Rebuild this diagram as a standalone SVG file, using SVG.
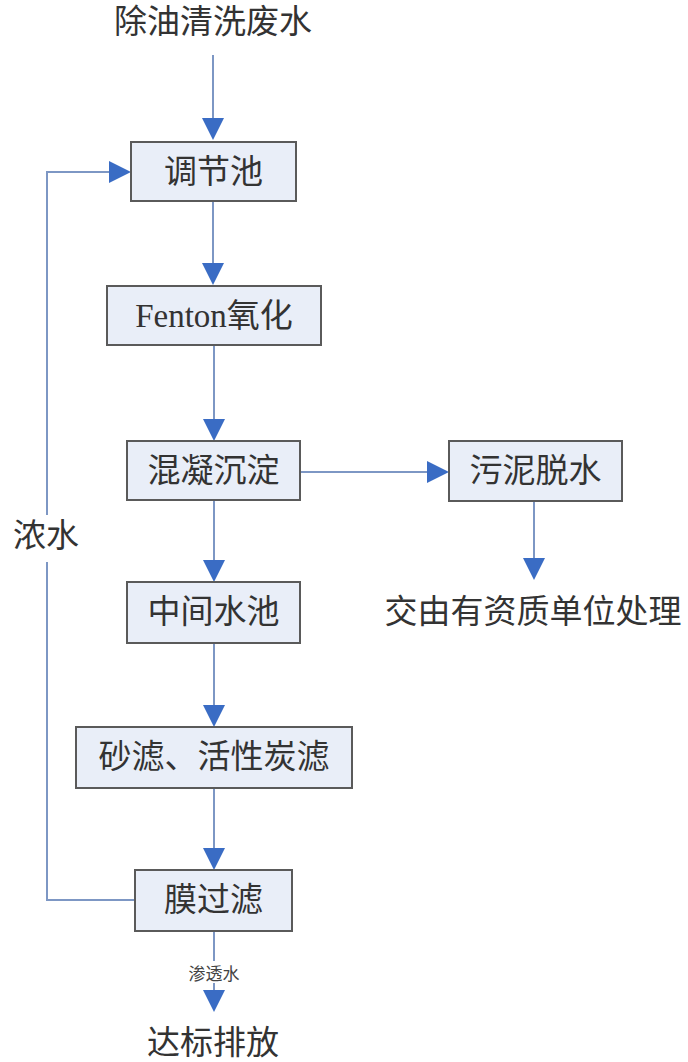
<svg xmlns="http://www.w3.org/2000/svg" width="688" height="1062" viewBox="0 0 688 1062">
<defs>
<style>
.box{fill:#e9eef8;stroke:#5a5a5a;stroke-width:2}
.t{font-family:"Liberation Serif","Noto Sans CJK SC",serif;font-size:33px;fill:#333;text-anchor:middle;dominant-baseline:central}
.s{font-family:"Noto Sans CJK SC",sans-serif;font-size:17px;fill:#444;text-anchor:middle;dominant-baseline:central}
.ln{fill:none;stroke:#7d97c4;stroke-width:2}
.hd{fill:#3a6cc4}
</style>
</defs>
<rect width="688" height="1062" fill="#ffffff"/>
<g id="connectors">
<line class="ln" x1="213" y1="55" x2="213" y2="120"/>
<path class="hd" d="M202,118 L224,118 L213,140 z"/>
<line class="ln" x1="213" y1="201" x2="213" y2="265"/>
<path class="hd" d="M202,263 L224,263 L213,285 z"/>
<line class="ln" x1="214" y1="345" x2="214" y2="421"/>
<path class="hd" d="M203,419 L225,419 L214,441 z"/>
<line class="ln" x1="300" y1="472" x2="429" y2="472"/>
<path class="hd" d="M427,461 L427,483 L449,472 z"/>
<line class="ln" x1="534" y1="501" x2="534" y2="560"/>
<path class="hd" d="M523,558 L545,558 L534,580 z"/>
<line class="ln" x1="214" y1="500" x2="214" y2="562"/>
<path class="hd" d="M203,560 L225,560 L214,582 z"/>
<line class="ln" x1="214" y1="643" x2="214" y2="707"/>
<path class="hd" d="M203,705 L225,705 L214,727 z"/>
<line class="ln" x1="214" y1="788" x2="214" y2="850"/>
<path class="hd" d="M203,848 L225,848 L214,870 z"/>
<polyline class="ln" points="135,900 47,900 47,562"/>
<polyline class="ln" points="47,515 47,172 110,172"/>
<path class="hd" d="M109,161 L109,183 L131,172 z"/>
<line class="ln" x1="214" y1="931" x2="214" y2="961"/>
<line class="ln" x1="214" y1="983" x2="214" y2="992"/>
<path class="hd" d="M203,990 L225,990 L214,1012 z"/>
<text class="s" x="214" y="972">渗透水</text>
<text class="t" x="46" y="536">浓水</text>
</g>
<g id="src"><text class="t" x="213" y="22">除油清洗废水</text></g>
<g id="n1"><rect class="box" x="131" y="142" width="165" height="59"/><text class="t" x="213.5" y="172">调节池</text></g>
<g id="n2"><rect class="box" x="107" y="286" width="214" height="59"/><text class="t" x="214" y="316">Fenton氧化</text></g>
<g id="n3"><rect class="box" x="127" y="441" width="173" height="59"/><text class="t" x="213.5" y="471">混凝沉淀</text></g>
<g id="n4"><rect class="box" x="449" y="441" width="173" height="60"/><text class="t" x="535.5" y="471">污泥脱水</text></g>
<g id="out1"><text class="t" x="533" y="612">交由有资质单位处理</text></g>
<g id="n5"><rect class="box" x="127" y="582" width="173" height="61"/><text class="t" x="213.5" y="612">中间水池</text></g>
<g id="n6"><rect class="box" x="76" y="727" width="276" height="61"/><text class="t" x="214" y="757">砂滤、活性炭滤</text></g>
<g id="n7"><rect class="box" x="135" y="870" width="157" height="61"/><text class="t" x="213.5" y="900">膜过滤</text></g>
<g id="out2"><text class="t" x="213" y="1043">达标排放</text></g>
</svg>
